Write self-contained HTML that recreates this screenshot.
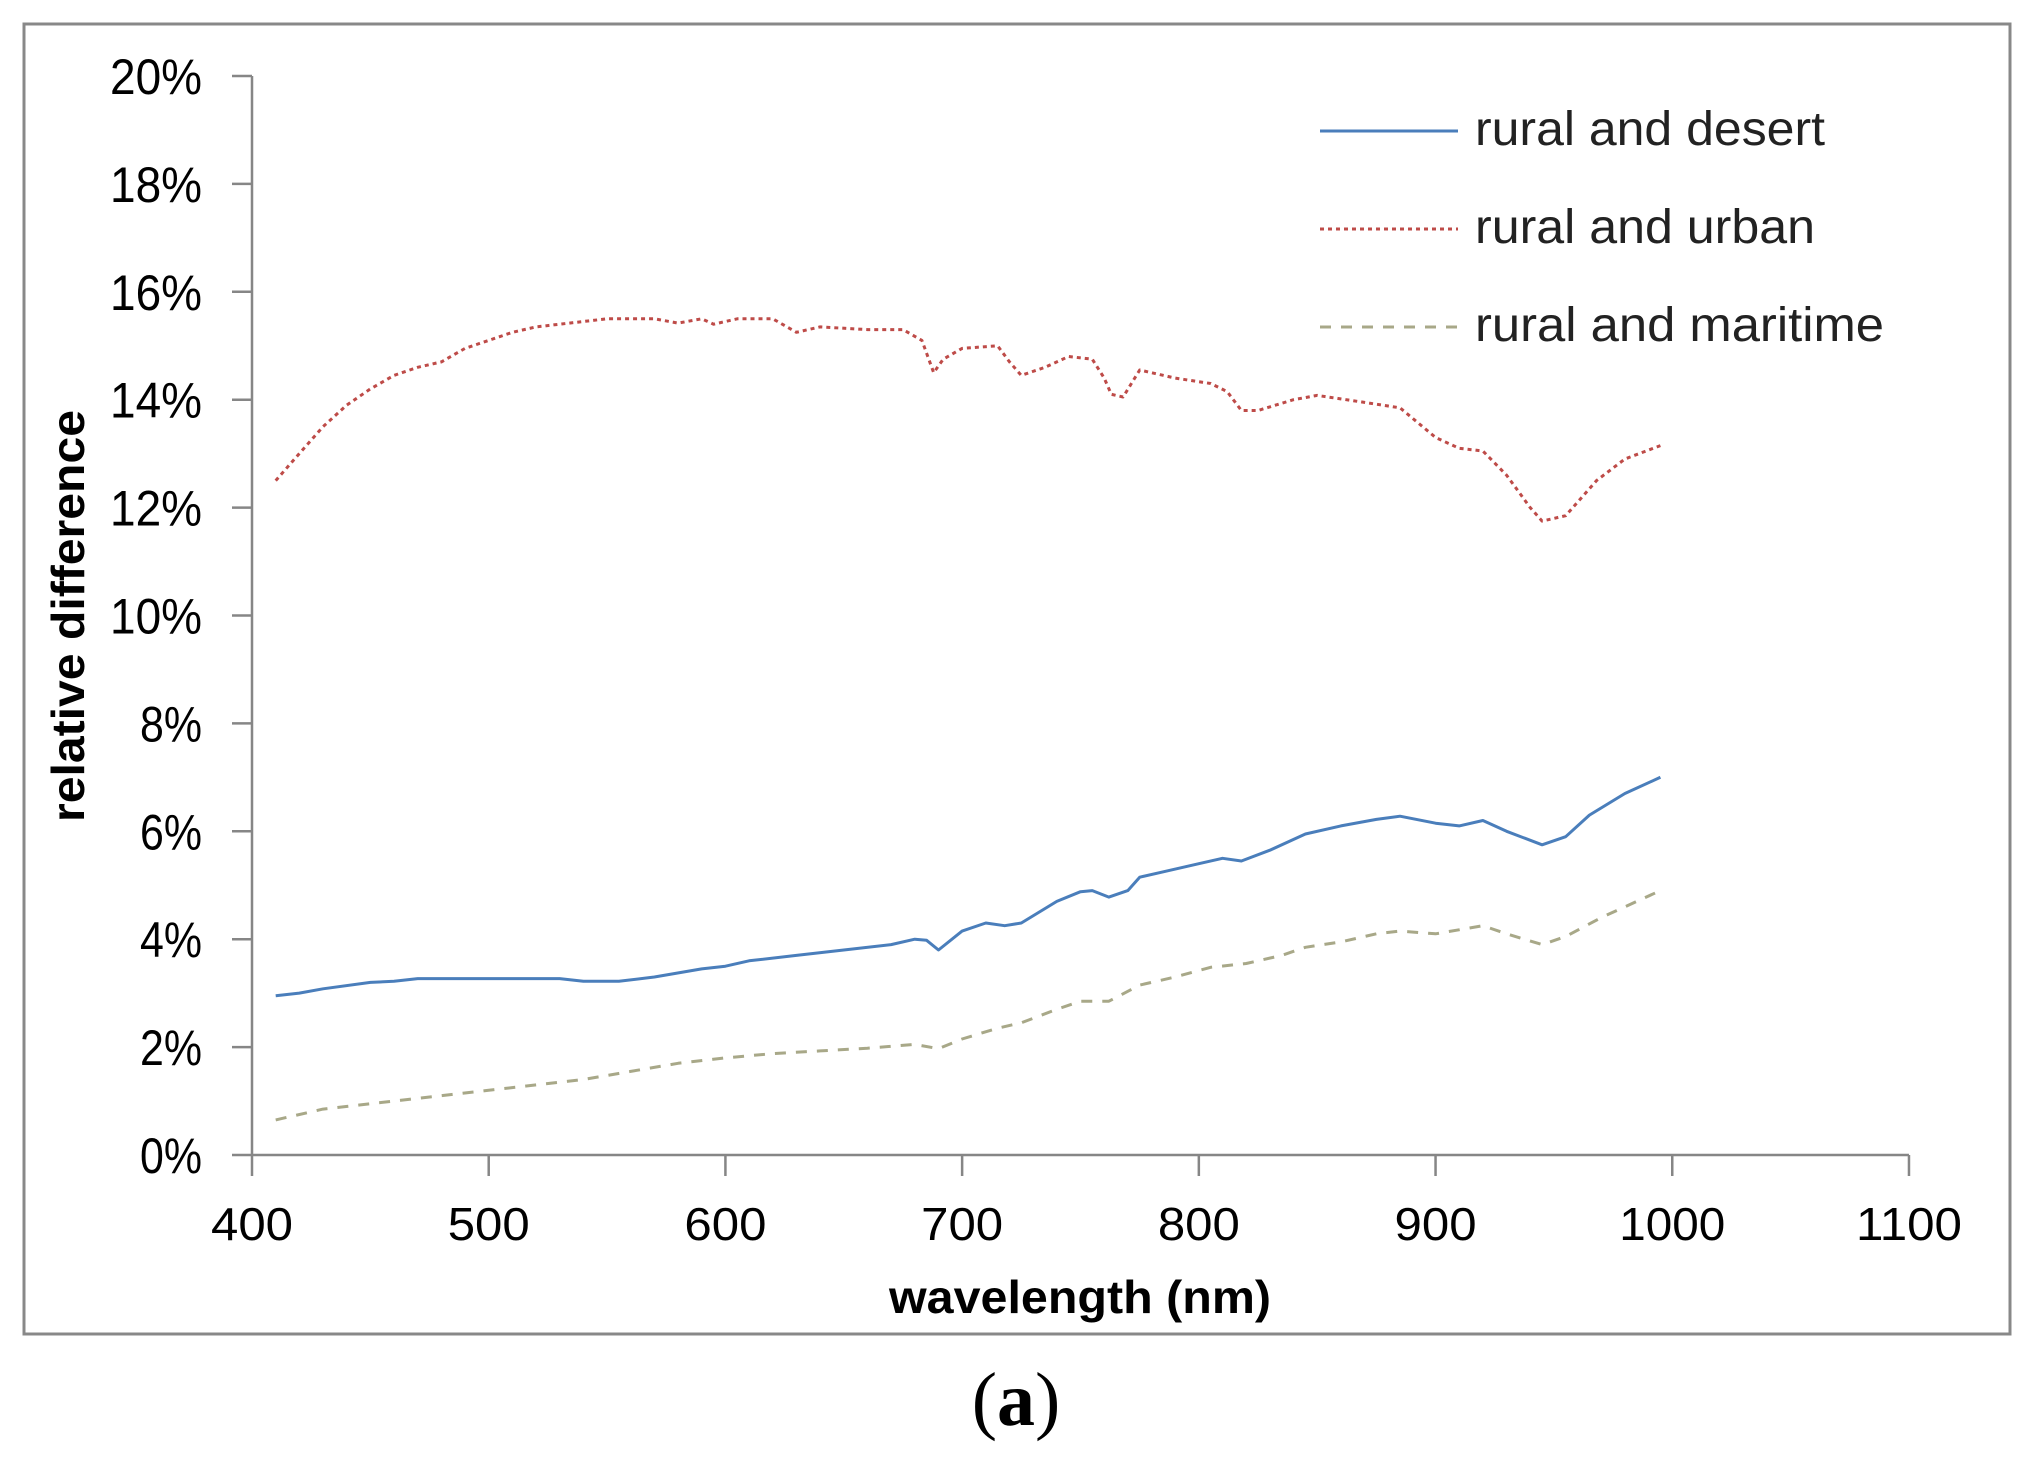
<!DOCTYPE html>
<html><head><meta charset="utf-8"><style>
html,body{margin:0;padding:0;background:#fff;}
svg{display:block;}
</style></head><body>
<svg id="s" width="2040" height="1462" xmlns="http://www.w3.org/2000/svg" font-family="'Liberation Sans', sans-serif">
<rect x="0" y="0" width="2040" height="1462" fill="#fff"/>
<rect x="24" y="24" width="1986" height="1310" fill="none" stroke="#888" stroke-width="3"/>
<g id="axes" stroke="#868686" stroke-width="2.5" fill="none"></g>
<g id="labels" fill="#000" font-size="50"></g>
<g id="series" fill="none"></g>
<text x="1080" y="1313" text-anchor="middle" font-weight="bold" font-size="46" textLength="382" lengthAdjust="spacingAndGlyphs">wavelength (nm)</text>
<text transform="translate(84,616) rotate(-90)" text-anchor="middle" font-weight="bold" font-size="46" textLength="412" lengthAdjust="spacingAndGlyphs">relative difference</text>
<line x1="1320" y1="131" x2="1458" y2="131" stroke="#4a7ebb" stroke-width="3"/>
<line x1="1320" y1="229" x2="1458" y2="229" stroke="#be4b48" stroke-width="3" stroke-dasharray="4,4"/>
<line x1="1320" y1="327" x2="1458" y2="327" stroke="#a8a888" stroke-width="3" stroke-dasharray="11,10"/>
<g font-size="48" fill="#222">
<text x="1475" y="145" textLength="350" lengthAdjust="spacingAndGlyphs">rural and desert</text>
<text x="1475" y="243" textLength="340" lengthAdjust="spacingAndGlyphs">rural and urban</text>
<text x="1475" y="341" textLength="409" lengthAdjust="spacingAndGlyphs">rural and maritime</text>
</g>
<text x="1016" y="1425" text-anchor="middle" font-family="'Liberation Serif', serif" font-size="76">(<tspan font-weight="bold">a</tspan>)</text>
</svg>
<script>
var NS="http://www.w3.org/2000/svg";
function X(n){return 252+(n-400)*2.3671;}
function Y(p){return 1155-p*53.95;}
function el(t,a,p){var e=document.createElementNS(NS,t);for(var k in a)e.setAttribute(k,a[k]);p.appendChild(e);return e;}
var ax=document.getElementById('axes'),lb=document.getElementById('labels');
el('line',{x1:252,y1:Y(20),x2:252,y2:1155},ax);
el('line',{x1:252,y1:1155,x2:X(1100),y2:1155},ax);
for(var i=0;i<=10;i++){var y=Y(i*2);el('line',{x1:232,y1:y,x2:252,y2:y},ax);
 var t=el('text',{x:202,y:y+18,'text-anchor':'end',textLength:(i*2>=10?92:62),lengthAdjust:'spacingAndGlyphs'},lb);t.textContent=(i*2)+'%';}
for(var n=400;n<=1100;n+=100){var x=X(n);el('line',{x1:x,y1:1155,x2:x,y2:1176},ax);
 var t=el('text',{x:x,y:1240,'text-anchor':'middle','font-size':46,textLength:(n>=1000?106:82),lengthAdjust:'spacingAndGlyphs'},lb);t.textContent=n;}
var desert=[[410,2.95],[420,3.0],[430,3.08],[450,3.2],[460,3.22],[470,3.27],[500,3.27],[530,3.27],[540,3.22],[555,3.22],[570,3.3],[590,3.45],[600,3.5],[610,3.6],[630,3.7],[650,3.8],[670,3.9],[680,4.0],[685,3.98],[690,3.8],[700,4.15],[710,4.3],[718,4.25],[725,4.3],[740,4.7],[750,4.88],[755,4.9],[762,4.78],[770,4.9],[775,5.15],[785,5.25],[800,5.4],[810,5.5],[818,5.45],[830,5.65],[845,5.95],[860,6.1],[875,6.22],[885,6.28],[900,6.15],[910,6.1],[920,6.2],[930,6.0],[945,5.75],[955,5.9],[965,6.3],[980,6.7],[995,7.0]];
var urban=[[410,12.5],[420,13.0],[430,13.5],[440,13.9],[450,14.2],[460,14.45],[470,14.6],[480,14.7],[490,14.95],[500,15.1],[510,15.25],[520,15.35],[530,15.4],[540,15.45],[550,15.5],[570,15.5],[580,15.42],[590,15.5],[595,15.4],[605,15.5],[620,15.5],[630,15.25],[640,15.35],[660,15.3],[675,15.3],[683,15.1],[688,14.5],[692,14.75],[700,14.95],[715,15.0],[720,14.7],[725,14.45],[735,14.6],[745,14.8],[755,14.75],[760,14.4],[763,14.1],[768,14.05],[775,14.55],[790,14.4],[805,14.3],[812,14.15],[818,13.8],[825,13.8],[840,14.0],[850,14.08],[870,13.95],[885,13.85],[900,13.3],[910,13.1],[920,13.05],[930,12.6],[940,12.0],[945,11.75],[955,11.85],[968,12.5],[980,12.9],[995,13.15]];
var mar=[[410,0.65],[430,0.85],[450,0.95],[470,1.05],[500,1.2],[520,1.3],[540,1.4],[560,1.55],[580,1.7],[600,1.8],[620,1.88],[640,1.93],[660,1.98],[680,2.05],[690,1.97],[700,2.15],[715,2.35],[725,2.45],[740,2.7],[750,2.85],[762,2.85],[775,3.15],[790,3.3],[805,3.48],[820,3.55],[835,3.7],[845,3.85],[860,3.95],[875,4.1],[885,4.15],[900,4.1],[920,4.25],[930,4.1],[945,3.9],[955,4.05],[970,4.4],[985,4.7],[995,4.9]];
var sg=document.getElementById('series');
function pl(d,c,da){el('polyline',{points:d.map(function(p){return X(p[0]).toFixed(1)+','+Y(p[1]).toFixed(1)}).join(' '),stroke:c,'stroke-width':3,'stroke-dasharray':da,'stroke-linejoin':'round'},sg);}
pl(mar,'#a8a888','11,10');
pl(urban,'#be4b48','4,4');
pl(desert,'#4a7ebb','none');
</script>
</body></html>
